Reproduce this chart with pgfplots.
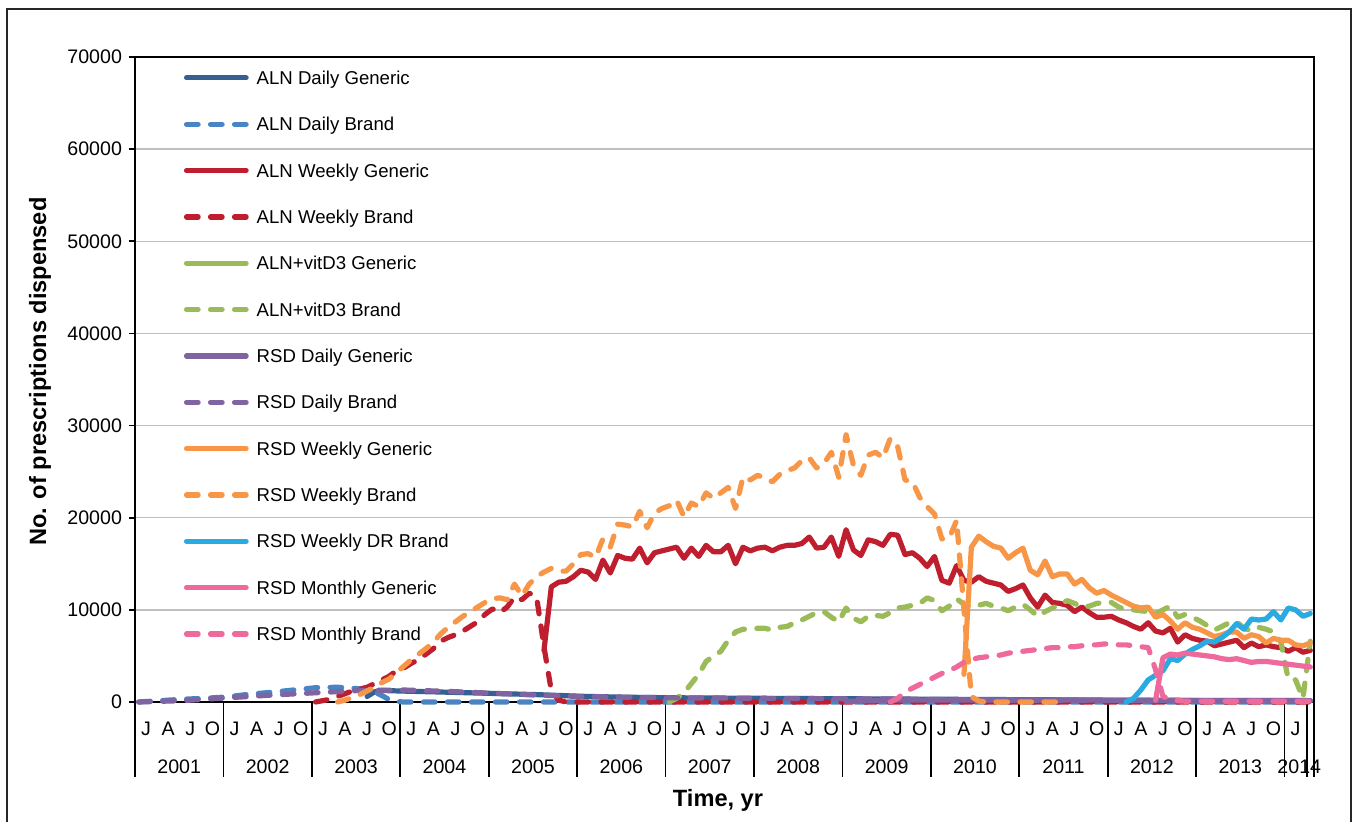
\documentclass[border=0pt]{standalone}
\usepackage{fontspec}
\setmainfont{Liberation Sans}
\usepackage{pgfplots}
\pgfplotsset{compat=1.18}
\definecolor{alnD}{HTML}{376092}
\definecolor{alnDB}{HTML}{4A84C4}
\definecolor{alnW}{HTML}{BE1E2D}
\definecolor{vitD}{HTML}{9BBB59}
\definecolor{rsdD}{HTML}{8064A2}
\definecolor{rsdW}{HTML}{F79646}
\definecolor{rsdDR}{HTML}{29ABE2}
\definecolor{rsdM}{HTML}{EE6A9C}
\definecolor{gridc}{HTML}{BFBFBF}
\pgfplotsset{
  sl/.style={line width=2.6pt, line join=round, line cap=round},
  dl/.style={line width=2.6pt, line join=round, line cap=round, dash pattern=on 5.8pt off 6.2pt},
}
\begin{document}
\begin{tikzpicture}
\useasboundingbox (0,0) rectangle (677.5pt,411pt);
\draw[line width=0.75pt, black!85] (3.5pt,-2pt) rectangle (675.5pt,406.5pt);
\begin{axis}[
  at={(67.5pt,60pt)}, anchor=south west,
  scale only axis, width=589.5pt, height=322.5pt,
  xmin=0, xmax=160, ymin=0, ymax=70000,
  clip=false, no markers,
  axis line style={black, line width=0.9pt},
  tick align=outside,
  major tick length=3pt,
  ytick={0,10000,20000,30000,40000,50000,60000,70000},
  yticklabels={0,10000,20000,30000,40000,50000,60000,70000},
  scaled y ticks=false,
  ytick pos=left,
  ytick style={black, line width=0.9pt},
  ymajorgrids, major grid style={gridc, line width=0.75pt},
  xtick={1.5,4.5,...,157.5},
  xticklabels={J,A,J,O,J,A,J,O,J,A,J,O,J,A,J,O,J,A,J,O,J,A,J,O,J,A,J,O,J,A,J,O,J,A,J,O,J,A,J,O,J,A,J,O,J,A,J,O,J,A,J,O,J},
  xtick style={draw=none},
  xtick pos=bottom,
  minor xtick={0,12,...,156,159,160},
  minor tick length=37.5pt,
  minor x tick style={draw=black, line width=0.9pt},
  extra x ticks={6,18,...,150,158},
  extra x tick labels={2001,2002,2003,2004,2005,2006,2007,2008,2009,2010,2011,2012,2013,2014},
  extra x tick style={xticklabel style={yshift=-19pt}, tick style={draw=none}},
  xticklabel style={anchor=base, yshift=-14pt},
  tick label style={font=\fontsize{9.8}{11}\selectfont, text=black},
  xlabel={Time, yr}, ylabel={No. of prescriptions dispensed},
  every axis x label/.style={at={(axis description cs:0.4945,-0.152)}, anchor=center, font=\fontsize{11.8}{14}\selectfont\bfseries},
  every axis y label/.style={at={(axis description cs:-0.0806,0.512)}, rotate=90, anchor=center, font=\fontsize{11.8}{14}\selectfont\bfseries},
  legend cell align=left,
  legend style={at={(axis description cs:0.0415,0.978)}, anchor=north west, draw=none, fill=none,
    inner sep=0pt, outer sep=0pt, row sep=16.47pt, column sep=4pt,
    font=\fontsize{9.3}{11}\selectfont,
    nodes={inner sep=0pt, text height=6.7pt, text depth=0pt}},
  legend image code/.code={\draw[#1] (0pt,0pt) -- (29.8pt,0pt);},
]
% ALN Daily Generic
\addplot[sl, alnD] coordinates {(31.5,600) (32.5,1100) (33.5,1250) (36.5,1180) (42.5,1060) (48.5,930) (54.5,800) (60.5,620) (66.5,520) (72.5,460) (84.5,400) (96.5,350) (108.5,300) (120.5,250) (132.5,200) (144.5,150) (159.5,120)};
% ALN Daily Brand
\addplot[dl, alnDB] coordinates {(0.5,0) (3.5,150) (6.5,300) (9.5,400) (12.5,550) (15.5,850) (18.5,1050) (21.5,1300) (24.5,1550) (27.5,1600) (29.5,1500) (31.5,1350) (32.5,1100) (33.5,700) (34.5,250) (35.5,50) (36.5,0) (159.5,0)};
% ALN Weekly Generic
\addplot[sl, alnW] coordinates {(55.5,5600) (56.5,12500) (57.5,13000) (58.5,13100) (59.5,13600) (60.5,14300) (61.5,14100) (62.5,13300) (63.5,15400) (64.5,14000) (65.5,15900) (66.5,15600) (67.5,15500) (68.5,16700) (69.5,15100) (70.5,16200) (71.5,16400) (72.5,16600) (73.5,16800) (74.5,15600) (75.5,16700) (76.5,15800) (77.5,17000) (78.5,16300) (79.5,16300) (80.5,17000) (81.5,15000) (82.5,16800) (83.5,16400) (84.5,16700) (85.5,16800) (86.5,16400) (87.5,16800) (88.5,17000) (89.5,17000) (90.5,17200) (91.5,17900) (92.5,16700) (93.5,16800) (94.5,17900) (95.5,15800) (96.5,18700) (97.5,16500) (98.5,15900) (99.5,17600) (100.5,17400) (101.5,17000) (102.5,18200) (103.5,18100) (104.5,16000) (105.5,16200) (106.5,15600) (107.5,14700) (108.5,15800) (109.5,13200) (110.5,12900) (111.5,14800) (112.5,13200) (113.5,13000) (114.5,13600) (115.5,13100) (116.5,12900) (117.5,12700) (118.5,12000) (119.5,12300) (120.5,12700) (121.5,11300) (122.5,10300) (123.5,11600) (124.5,10800) (125.5,10700) (126.5,10500) (127.5,9800) (128.5,10300) (129.5,9700) (130.5,9200) (131.5,9200) (132.5,9300) (133.5,8900) (134.5,8600) (135.5,8200) (136.5,7900) (137.5,8600) (138.5,7700) (139.5,7500) (140.5,8000) (141.5,6500) (142.5,7300) (143.5,6900) (144.5,6700) (145.5,6600) (146.5,6100) (147.5,6300) (148.5,6500) (149.5,6700) (150.5,5900) (151.5,6400) (152.5,6000) (153.5,6200) (154.5,6000) (155.5,5900) (156.5,5500) (157.5,5900) (158.5,5400) (159.5,5600)};
% ALN Weekly Brand
\addplot[dl, alnW] coordinates {(24.5,0) (25.5,150) (26.5,300) (27.5,600) (28.5,900) (29.5,1200) (30.5,1400) (31.5,1600) (32.5,2000) (33.5,2400) (34.5,2800) (35.5,3400) (36.5,3700) (37.5,4200) (38.5,4600) (39.5,5200) (40.5,5800) (41.5,6600) (42.5,7000) (43.5,7300) (44.5,7700) (45.5,8200) (46.5,8700) (47.5,9500) (48.5,10100) (49.5,9700) (50.5,10300) (51.5,11400) (52.5,11100) (53.5,11800) (54.5,11400) (55.5,6000) (56.5,1200) (57.5,200) (58.5,0) (159.5,0)};
% ALN+vitD3 Generic
\addplot[sl, vitD] coordinates {(140.5,180) (159.5,150)};
% ALN+vitD3 Brand
\addplot[dl, vitD] coordinates {(72.5,0) (73.5,400) (74.5,1000) (75.5,2000) (76.5,3000) (77.5,4400) (78.5,5000) (79.5,5500) (80.5,6700) (81.5,7600) (82.5,7900) (83.5,7900) (84.5,8000) (85.5,8000) (86.5,7800) (87.5,8100) (88.5,8200) (89.5,8600) (90.5,8900) (91.5,9300) (92.5,9700) (93.5,9800) (94.5,9200) (95.5,8700) (96.5,10200) (97.5,9100) (98.5,8700) (99.5,9300) (100.5,9400) (101.5,9300) (102.5,9700) (103.5,10200) (104.5,10300) (105.5,10500) (106.5,10700) (107.5,11300) (108.5,11000) (109.5,9900) (110.5,10400) (111.5,11200) (112.5,10600) (113.5,10300) (114.5,10500) (115.5,10700) (116.5,10400) (117.5,10200) (118.5,9900) (119.5,10300) (120.5,10600) (121.5,10000) (122.5,9300) (123.5,9800) (124.5,10200) (125.5,10600) (126.5,11000) (127.5,10700) (128.5,10300) (129.5,10400) (130.5,10700) (131.5,10800) (132.5,10800) (133.5,10300) (134.5,10000) (135.5,10000) (136.5,9900) (137.5,9800) (138.5,9600) (139.5,10000) (140.5,10400) (141.5,9200) (142.5,9500) (143.5,9200) (144.5,8800) (145.5,8300) (146.5,7800) (147.5,8200) (148.5,8600) (149.5,8700) (150.5,8000) (151.5,7700) (152.5,8100) (153.5,7900) (154.5,7600) (155.5,6500) (156.5,2500) (157.5,2400) (158.5,400) (159.5,6600)};
% RSD Daily Generic
\addplot[sl, rsdD] coordinates {(96.5,50) (102.5,200) (120.5,220) (140.5,180) (159.5,150)};
% RSD Daily Brand
\addplot[dl, rsdD] coordinates {(0.5,0) (6.5,150) (12.5,450) (18.5,750) (24.5,1000) (30.5,1250) (36.5,1300) (42.5,1150) (48.5,950) (54.5,750) (60.5,600) (72.5,450) (84.5,400) (96.5,350) (108.5,280) (120.5,200) (132.5,150) (144.5,100) (159.5,80)};
% RSD Weekly Generic
\addplot[sl, rsdW] coordinates {(112.5,3000) (113.5,16800) (114.5,18000) (115.5,17400) (116.5,16900) (117.5,16700) (118.5,15600) (119.5,16200) (120.5,16700) (121.5,14300) (122.5,13800) (123.5,15300) (124.5,13600) (125.5,13900) (126.5,13900) (127.5,12800) (128.5,13300) (129.5,12400) (130.5,11800) (131.5,12100) (132.5,11600) (133.5,11200) (134.5,10800) (135.5,10400) (136.5,10200) (137.5,10300) (138.5,9200) (139.5,9500) (140.5,8800) (141.5,7900) (142.5,8600) (143.5,8100) (144.5,7900) (145.5,7500) (146.5,7100) (147.5,7300) (148.5,7600) (149.5,7600) (150.5,6900) (151.5,7300) (152.5,7100) (153.5,6400) (154.5,6900) (155.5,6700) (156.5,6700) (157.5,6200) (158.5,6100) (159.5,6400)};
% RSD Weekly Brand
\addplot[dl, rsdW] coordinates {(27.5,0) (28.5,200) (29.5,500) (30.5,800) (31.5,1200) (32.5,1600) (33.5,2100) (34.5,2500) (35.5,3200) (36.5,3900) (37.5,4600) (38.5,5200) (39.5,5800) (40.5,6500) (41.5,7400) (42.5,8100) (43.5,8700) (44.5,9300) (45.5,9800) (46.5,10300) (47.5,10800) (48.5,11200) (49.5,11300) (50.5,11100) (51.5,12800) (52.5,11500) (53.5,12800) (54.5,13600) (55.5,14100) (56.5,14500) (57.5,14200) (58.5,14200) (59.5,15000) (60.5,16000) (61.5,16100) (62.5,15700) (63.5,17700) (64.5,16800) (65.5,19300) (66.5,19200) (67.5,19000) (68.5,20700) (69.5,18900) (70.5,20500) (71.5,21000) (72.5,21300) (73.5,21900) (74.5,20100) (75.5,21600) (76.5,21200) (77.5,22700) (78.5,22100) (79.5,22700) (80.5,23300) (81.5,21000) (82.5,24400) (83.5,24100) (84.5,24600) (85.5,24300) (86.5,23900) (87.5,24700) (88.5,25100) (89.5,25400) (90.5,26200) (91.5,26500) (92.5,25400) (93.5,25900) (94.5,27100) (95.5,24400) (96.5,29000) (97.5,25700) (98.5,24600) (99.5,26800) (100.5,27100) (101.5,26500) (102.5,28600) (103.5,27700) (104.5,24100) (105.5,23900) (106.5,22200) (107.5,21200) (108.5,20400) (109.5,17700) (110.5,17800) (111.5,19700) (112.5,10000) (113.5,600) (114.5,100) (115.5,0) (126.5,0)};
% RSD Weekly DR Brand
\addplot[sl, rsdDR] coordinates {(134.5,0) (135.5,400) (136.5,1300) (137.5,2400) (138.5,2900) (139.5,3400) (140.5,4700) (141.5,4500) (142.5,5200) (143.5,5700) (144.5,6100) (145.5,6600) (146.5,6500) (147.5,7000) (148.5,7600) (149.5,8500) (150.5,7900) (151.5,9000) (152.5,8900) (153.5,9000) (154.5,9800) (155.5,8900) (156.5,10200) (157.5,10000) (158.5,9300) (159.5,9600)};
% RSD Monthly Generic
\addplot[sl, rsdM] coordinates {(138.5,200) (139.5,4800) (140.5,5200) (141.5,5100) (142.5,5300) (143.5,5200) (144.5,5100) (145.5,5000) (146.5,4900) (147.5,4700) (148.5,4600) (149.5,4700) (150.5,4500) (151.5,4300) (152.5,4400) (153.5,4400) (154.5,4300) (155.5,4200) (156.5,4100) (157.5,4000) (158.5,3900) (159.5,3800)};
% RSD Monthly Brand
\addplot[dl, rsdM] coordinates {(102.5,0) (103.5,400) (104.5,1100) (105.5,1500) (106.5,1900) (107.5,2300) (108.5,2700) (109.5,3100) (110.5,3400) (111.5,3800) (112.5,4300) (113.5,4600) (114.5,4800) (115.5,4900) (116.5,5000) (117.5,5100) (118.5,5300) (119.5,5400) (120.5,5500) (121.5,5600) (122.5,5700) (123.5,5800) (124.5,5900) (125.5,5900) (126.5,6000) (127.5,6000) (128.5,6100) (129.5,6200) (130.5,6200) (131.5,6300) (132.5,6300) (133.5,6200) (134.5,6200) (135.5,6100) (136.5,6000) (137.5,5900) (138.5,3500) (139.5,600) (140.5,300) (141.5,150) (142.5,80) (159.5,80)};
\legend{ALN Daily Generic, ALN Daily Brand, ALN Weekly Generic, ALN Weekly Brand, ALN+vitD3 Generic, ALN+vitD3 Brand, RSD Daily Generic, RSD Daily Brand, RSD Weekly Generic, RSD Weekly Brand, RSD Weekly DR Brand, RSD Monthly Generic, RSD Monthly Brand}
\end{axis}
\end{tikzpicture}
\end{document}
